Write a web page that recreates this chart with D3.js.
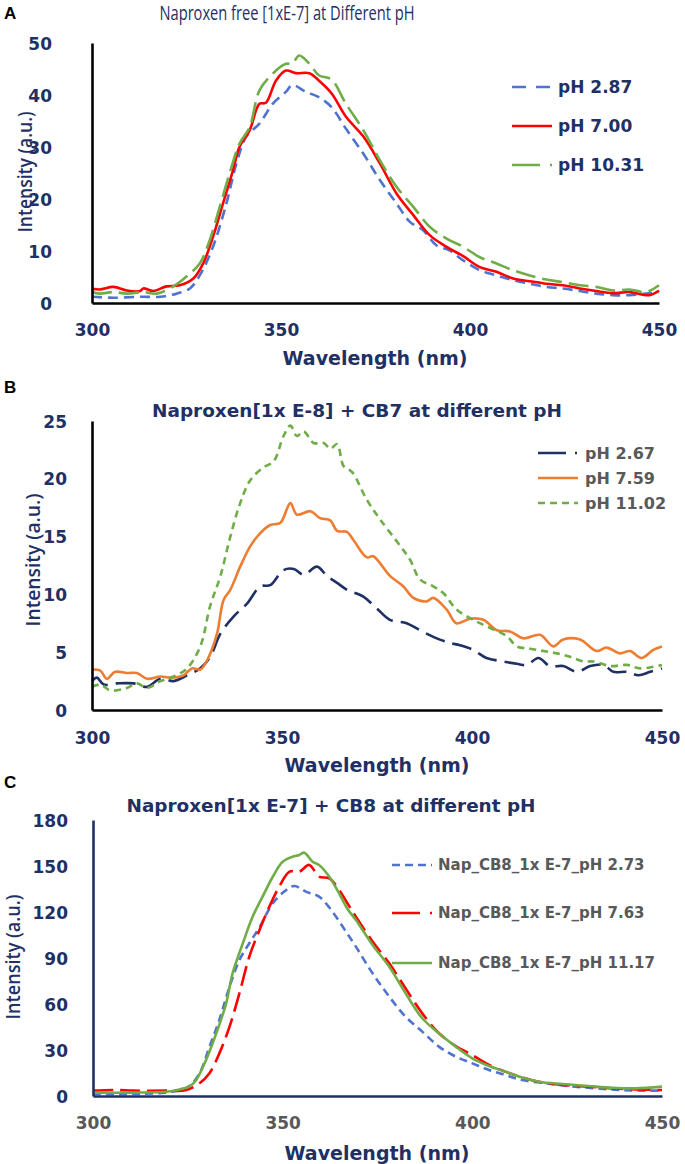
<!DOCTYPE html>
<html><head><meta charset="utf-8">
<script src="https://cdn.jsdelivr.net/npm/d3@7"></script>
<style>body{margin:0;background:#fff}svg{display:block}</style>
</head><body>
<svg id="chart" width="685" height="1164"></svg>
<script>
// ---------- DATA ----------
const xTicks = [300, 350, 400, 450];
const yTicksA = [0, 10, 20, 30, 40, 50];
const yTicksB = [0, 5, 10, 15, 20, 25];
const yTicksC = [0, 30, 60, 90, 120, 150, 180];

const titleA = "Naproxen free [1xE-7] at Different pH";
const titleB = "Naproxen[1x E-8] + CB7 at different pH";
const titleC = "Naproxen[1x E-7] + CB8 at different pH";

const namesA = ["pH 2.87", "pH 7.00", "pH 10.31"];
const namesB = ["pH 2.67", "pH 7.59", "pH 11.02"];
const namesC = ["Nap_CB8_1x E-7_pH 2.73", "Nap_CB8_1x E-7_pH 7.63", "Nap_CB8_1x E-7_pH 11.17"];

// Panel A: [wavelength, intensity]
const A_pH287 = [[300,1.2],[305.7,1.0],[312.7,1.2],[318,1.2],[322.4,1.8],[325.9,2.8],[328.5,5.3],[332,10.8],[335.5,19],[338.2,26.8],[340.8,32],[344.3,34.5],[347.8,38.3],[351.3,40.6],[353,41.9],[356.6,40.6],[360,39.6],[363.3,37.7],[367.2,33.5],[371.8,28.7],[376.2,23.6],[380.6,19.1],[384.1,15.6],[387.6,14],[391.1,11.1],[394.6,10.1],[398.2,8.2],[402.6,6.3],[407,5.3],[411.4,4.4],[415.8,3.7],[420.2,3.1],[424.6,2.8],[429,2.3],[433.4,1.8],[437.8,1.5],[442.2,1.5],[446.6,1.8],[450,2.1]];
const A_pH700 = [[300,2.8],[302,2.6],[305.7,3.1],[309.2,2.4],[312.7,2.3],[313.6,2.8],[316.2,2.3],[319.7,3.2],[323.2,3.4],[326.8,4.7],[329.4,7.6],[332,12.7],[334.6,19],[337.3,25.5],[339,30],[341.7,33.2],[344.3,38.3],[346,38.5],[348.7,42.8],[351.3,44.7],[354,44.2],[357.5,44.2],[360,42.8],[363.4,40.3],[367.2,35.8],[371.8,32],[376.2,26.8],[380.6,21],[385,16.9],[389.4,13],[393.8,10.8],[398.2,9],[402.6,6.9],[407,6],[411.4,4.7],[415.8,4.2],[420.2,3.7],[424.6,3.4],[429,2.8],[433.4,2.3],[437.8,1.9],[442.2,2.1],[447.5,1.5],[450,2.4]];
const A_pH1031 = [[300,2.1],[302,1.8],[305.7,2.1],[309.2,1.8],[313.6,2.1],[317.1,1.8],[321.5,3.2],[325,5.1],[328.5,7.6],[331.1,12],[333.8,18.5],[336.4,24.9],[339,30.6],[341.7,33.8],[344.3,40.9],[347.8,44.1],[351.3,46],[353,46],[354.8,47.6],[357.5,46],[360,43.8],[363.3,43],[367.2,38.3],[371.8,33.2],[376.2,27.4],[380.6,22.3],[385,18.5],[389.4,14.6],[393.8,12.4],[398.2,10.8],[402.6,8.8],[407,7.6],[411.4,6.3],[415.8,5.3],[420.2,4.5],[424.6,4.0],[429,3.4],[433.4,3.1],[437.8,2.4],[442.2,2.6],[446.6,2.1],[450,3.4]];

// Panel B
const B_pH267 = [[300,2.5],[301.3,2.8],[303.1,2.2],[306.6,2.3],[311,2.3],[314.5,2.0],[318,2.7],[321.5,2.5],[325,3.0],[328.5,3.6],[331.1,4.6],[333.8,6.6],[337.3,8.1],[340.8,9.2],[344.3,10.7],[346.9,10.8],[350.4,12.1],[353.1,12.2],[355.7,11.7],[359.2,12.4],[361.8,11.6],[364.5,11],[367.1,10.4],[371.4,9.8],[374.9,8.8],[378.4,7.8],[382.8,7.5],[386.3,6.9],[390.7,6.2],[394.2,5.8],[396.8,5.6],[400.3,5.2],[403.8,4.5],[408.2,4.2],[411.8,4.0],[414.4,3.9],[417.5,4.5],[420.5,3.8],[424,3.8],[427.6,3.3],[431.1,3.8],[434.6,3.9],[437.2,3.3],[440.8,3.3],[443.8,3.0],[446.9,3.3],[450,3.6]];
const B_pH759 = [[300,3.5],[302.2,3.4],[303.9,2.7],[306.1,3.3],[309.2,3.2],[311.8,3.2],[314.5,2.7],[318,2.9],[320.6,2.8],[324.1,3.0],[326.3,3.6],[328.5,3.5],[330.3,4.3],[332.9,6.6],[334.6,9.5],[336.4,10.4],[339,12.4],[341.7,14.2],[344.3,15.3],[346.9,16],[349.6,16.2],[352.2,17.9],[353.9,16.9],[357.5,17.2],[360,16.6],[362.7,16.4],[364.5,15.5],[367.1,15.4],[368.8,14.7],[372.3,13.2],[374,13.3],[378.4,11.6],[381.9,10.7],[384.6,9.7],[388.1,9.4],[389.8,9.7],[393.3,8.7],[395.9,7.5],[399.5,7.9],[403,7.8],[406.5,6.9],[410,6.8],[413.5,6.2],[417.9,6.5],[421.4,5.5],[424,6.1],[428.4,6.1],[432.8,5.1],[435.4,5.4],[438.9,4.9],[441.6,5.1],[444.6,4.5],[447.7,5.2],[450,5.5]];
const B_pH1102 = [[300,2.0],[302.2,2.2],[304.8,1.7],[309.2,1.9],[311.8,2.3],[314.5,1.9],[318,2.5],[321.5,2.9],[325,3.6],[328.5,5.5],[331.1,9],[333.8,11.6],[336.4,15],[339,17.9],[341.7,19.9],[345.2,21],[347.8,21.5],[350.4,23.7],[352.2,24.6],[353.9,23.7],[355.7,24.1],[358.3,23.1],[361,23.1],[362.7,22.6],[364.5,23],[366.2,21.1],[368.4,20.6],[372.3,18.2],[375.8,16.5],[381.1,14.2],[383.7,13],[386.3,11.3],[389.8,10.7],[392.5,10.1],[395.9,8.7],[400.3,7.8],[404.7,7.1],[409.1,6.4],[411.8,5.5],[415.3,5.3],[418.8,5.1],[422.3,4.9],[425.8,4.6],[429.4,4.2],[432,4.2],[436.4,3.8],[440.8,3.9],[444.3,3.6],[450,3.9]];

// Panel C
const C_pH273 = [[300,1.3],[310.5,1.3],[319.3,2.2],[322.8,3.9],[325.4,6.5],[328.1,14.8],[330.7,32],[333.3,49.6],[336,71.3],[338.6,88.7],[341.2,99.6],[343.9,110],[347.4,125.7],[350.9,134.3],[353.1,137],[356.1,133.3],[359.6,130],[362.8,121.3],[366.2,109],[369.3,97.4],[373.7,80],[378.1,64.8],[382.4,51.7],[386.8,42],[391.2,32.2],[395.6,25.7],[400,21.3],[404.4,17],[408.7,13.7],[413.1,10.4],[419.3,8.3],[425.4,6.5],[432.5,5],[439.5,3.9],[445.6,3.5],[450,3.5]];
const C_pH763 = [[300,3.5],[306.1,3.9],[310.5,3.5],[319.3,3.5],[324.6,3.9],[328.1,8.3],[330.7,14.8],[333.3,27.8],[336,45.2],[338.6,67],[341.2,90.9],[343.9,108.3],[346.5,123.5],[349.1,136.5],[351.8,146.3],[354.4,146.3],[357,150.7],[359.6,143],[362.3,142],[364.9,134.3],[367.5,124],[369.3,117],[373.7,100.7],[378.1,86.5],[382.4,70.2],[386.8,53.9],[391.2,40.9],[395.6,32.6],[400,26.7],[404.4,20.2],[408.7,15.9],[413.1,12.2],[417.5,9.3],[423.7,7.2],[430.7,6.1],[436.8,5],[443,4.3],[450,3.9]];
const C_pH1117 = [[300,2.2],[310.5,2.2],[319.3,2.8],[322.8,4.3],[325.4,6.1],[327.2,10.4],[329.8,23.5],[332.5,40.9],[335.1,60.4],[336.8,80],[339.5,99.6],[342.1,117],[344.7,130],[347.4,143],[350,152.8],[352.6,156],[354.4,157.2],[355.7,158.7],[357.9,152.8],[359.6,150.7],[362.3,143],[364.9,132],[367.1,122],[369.3,114.8],[373.7,98.5],[378.1,84.3],[382.4,67],[386.8,50.7],[391.2,40.9],[395.6,32.2],[400,24.6],[404.4,19.6],[408.7,15.9],[413.1,12],[417.5,9.3],[423.7,7.8],[430.7,6.5],[436.8,5.4],[443,5],[450,6.1]];

// ---------- DRAW ----------
const svg = d3.select("#chart");
const NAVY = "#1f3064", GRAY = "#595959";
const BOLD = "'DejaVu Sans', Verdana, sans-serif";
const REG = "'Open Sans', 'Noto Sans', sans-serif";
const NARROW = "'Liberation Sans Narrow', 'Open Sans', sans-serif";

function panel(cfg) {
  const g = svg.append("g");
  const x = d3.scaleLinear().domain([300, 450]).range([cfg.x0, cfg.x1]);
  const y = d3.scaleLinear().domain(cfg.yDomain).range([cfg.yBottom, cfg.yTop]);

  g.append("text").attr("x", 4).attr("y", cfg.letterY).text(cfg.letter)
    .attr("font-family", "'Liberation Sans', Arial, sans-serif").attr("font-weight", "bold")
    .attr("font-size", 17).attr("fill", "#000");

  g.append("text").attr("x", cfg.titleX).attr("y", cfg.titleY).text(cfg.title)
    .attr("text-anchor", "middle").attr("font-family", cfg.titleBold ? BOLD : NARROW)
    .attr("font-weight", cfg.titleBold ? "bold" : "normal").attr("font-size", cfg.titleSize)
    .attr("fill", NAVY).attr("textLength", cfg.titleLen).attr("lengthAdjust", "spacingAndGlyphs");

  const line = d3.line().x(d => x(d[0])).y(d => y(d[1])).curve(d3.curveCatmullRom.alpha(0.5));
  cfg.series.forEach(s => {
    g.append("path").datum(s.data).attr("d", line).attr("fill", "none")
      .attr("stroke", s.color).attr("stroke-width", s.width || 2.6)
      .attr("stroke-dasharray", s.dash || null).attr("stroke-linejoin", "round");
  });

  const yAxis = g.append("g").attr("transform", `translate(${cfg.x0},0)`)
    .call(d3.axisLeft(y).tickValues(cfg.yTicks).tickSize(0).tickSizeOuter(0).tickPadding(cfg.yPad));
  yAxis.select(".domain").attr("stroke", cfg.axisColor).attr("stroke-width", 2.6);
  yAxis.selectAll("text").attr("font-family", BOLD).attr("font-weight", "bold")
    .attr("font-size", 17).attr("fill", NAVY).attr("dy", "0.36em");

  const xAxis = g.append("g").attr("transform", `translate(0,${cfg.yBottom})`)
    .call(d3.axisBottom(x).tickValues(xTicks).tickSize(0).tickSizeOuter(0).tickPadding(0));
  xAxis.select(".domain").attr("stroke", cfg.axisColor).attr("stroke-width", 2.6);
  xAxis.selectAll("text").attr("font-family", BOLD).attr("font-weight", "bold")
    .attr("font-size", 17).attr("fill", cfg.xTickColor)
    .attr("y", cfg.xTickY - cfg.yBottom).attr("dy", "0.36em");

  g.append("text").attr("x", cfg.xLabelX).attr("y", cfg.xLabelY).attr("dy", "0.36em")
    .attr("text-anchor", "middle").text("Wavelength (nm)")
    .attr("font-family", BOLD).attr("font-weight", "bold").attr("font-size", 19).attr("fill", NAVY);
  g.append("text").attr("transform", `translate(${cfg.yLabelX},${cfg.yLabelY}) rotate(-90)`)
    .attr("text-anchor", "middle").attr("dy", "0.36em").text("Intensity (a.u.)")
    .attr("font-family", REG).attr("font-weight", 600).attr("font-size", 19).attr("fill", NAVY)
    .attr("textLength", cfg.yLabelLen).attr("lengthAdjust", "spacingAndGlyphs");

  cfg.series.forEach((s, i) => {
    const ly = cfg.legY[i];
    g.append("line").attr("x1", cfg.legX0).attr("x2", cfg.legX1).attr("y1", ly).attr("y2", ly)
      .attr("stroke", s.color).attr("stroke-width", s.width || 2.6)
      .attr("stroke-dasharray", s.legDash || s.dash || null);
    g.append("text").attr("x", cfg.legTextX).attr("y", ly).attr("dy", "0.36em").text(s.name)
      .attr("font-family", BOLD).attr("font-weight", "bold").attr("font-size", cfg.legSize)
      .attr("fill", cfg.legColor);
  });
}

panel({
  letter: "A", letterY: 19, title: titleA, titleX: 287, titleY: 20, titleBold: false, titleSize: 20, titleLen: 255,
  x0: 92, x1: 659, yTop: 43, yBottom: 303, yDomain: [0, 50], yTicks: yTicksA, yPad: 40,
  axisColor: "#000", xTickColor: NAVY, xTickY: 330, xLabelX: 375, xLabelY: 358,
  yLabelX: 25, yLabelY: 172, yLabelLen: 121,
  legX0: 512, legX1: 552, legTextX: 558, legY: [87, 126, 165], legSize: 17, legColor: NAVY,
  series: [
    {name: namesA[0], data: A_pH287, color: "#4f73cf", dash: "10,6", legDash: "14,10"},
    {name: namesA[1], data: A_pH700, color: "#ff0000"},
    {name: namesA[2], data: A_pH1031, color: "#70ad47", dash: "20,7", legDash: "28,10,2,10"}
  ]
});

panel({
  letter: "B", letterY: 393, title: titleB, titleX: 357, titleY: 417, titleBold: true, titleSize: 17, titleLen: 410,
  x0: 92, x1: 662, yTop: 421, yBottom: 710, yDomain: [0, 25], yTicks: yTicksB, yPad: 25,
  axisColor: "#000", xTickColor: NAVY, xTickY: 738, xLabelX: 377, xLabelY: 765,
  yLabelX: 33, yLabelY: 560, yLabelLen: 133,
  legX0: 538, legX1: 578, legTextX: 585, legY: [453, 478, 503], legSize: 16, legColor: GRAY,
  series: [
    {name: namesB[0], data: B_pH267, color: "#1f3064", dash: "20,8", legDash: "28,9,2,10"},
    {name: namesB[1], data: B_pH759, color: "#ed7d31"},
    {name: namesB[2], data: B_pH1102, color: "#70ad47", dash: "7,5"}
  ]
});

panel({
  letter: "C", letterY: 788, title: titleC, titleX: 331, titleY: 812, titleBold: true, titleSize: 17, titleLen: 409,
  x0: 93, x1: 662, yTop: 820, yBottom: 1096, yDomain: [0, 180], yTicks: yTicksC, yPad: 25,
  axisColor: "#1f3064", xTickColor: GRAY, xTickY: 1123, xLabelX: 377, xLabelY: 1153,
  yLabelX: 13, yLabelY: 957, yLabelLen: 125,
  legX0: 392, legX1: 432, legTextX: 438, legY: [865, 913, 963], legSize: 15, legColor: GRAY,
  series: [
    {name: namesC[0], data: C_pH273, color: "#4f73cf", dash: "8,5"},
    {name: namesC[1], data: C_pH763, color: "#ff0000", dash: "20,7", legDash: "28,10,2,10"},
    {name: namesC[2], data: C_pH1117, color: "#70ad47"}
  ]
});
</script>
</body></html>
